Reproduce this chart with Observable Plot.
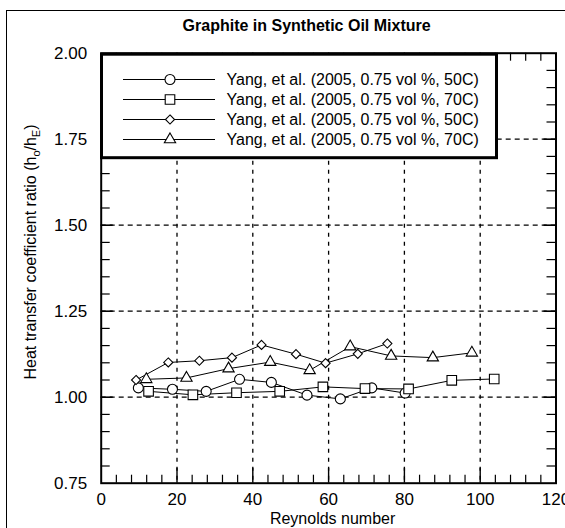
<!DOCTYPE html>
<html>
<head>
<meta charset="utf-8">
<script src="https://cdn.jsdelivr.net/npm/d3@7"></script>
<script src="https://cdn.jsdelivr.net/npm/@observablehq/plot@0.6"></script>
<style>
  html, body { margin: 0; padding: 0; background: #fff; overflow: hidden; }
  #wrap { position: relative; width: 565px; height: 528px; overflow: hidden; font-family: "Liberation Sans", Arial, sans-serif; }
  #wrap svg { display: block; }
  #outer { position: absolute; left: 6px; top: 10px; width: 800px; height: 800px; border: 1.5px solid #000; pointer-events: none; }
  #legend { position: absolute; left: 0; top: 0; pointer-events: none; }
</style>
</head>
<body>
<div id="wrap"><div id="outer"></div></div>
<script>
// ---- data ----
const titleText = "Graphite in Synthetic Oil Mixture";
const xLabel = "Reynolds number";
const seriesNames = [
  "Yang, et al. (2005, 0.75 vol %, 50C)",
  "Yang, et al. (2005, 0.75 vol %, 70C)",
  "Yang, et al. (2005, 0.75 vol %, 50C)",
  "Yang, et al. (2005, 0.75 vol %, 70C)"
];
const seriesSymbols = ["circle", "square", "diamond2", "triangle"];
const seriesR = [5, 5.4, 4.1, 4.2];

const circlesX   = [9.8, 18.8, 27.7, 36.5, 44.9, 54.3, 63.1, 71.4, 80.2];
const circlesY   = [1.027, 1.023, 1.017, 1.052, 1.043, 1.006, 0.995, 1.027, 1.012];
const squaresX   = [12.5, 24.2, 35.7, 47.1, 58.5, 69.6, 81.1, 92.5, 103.7];
const squaresY   = [1.017, 1.007, 1.013, 1.017, 1.030, 1.025, 1.024, 1.049, 1.053];
const diamondsX  = [9.2, 17.7, 25.9, 34.5, 42.3, 51.4, 59.2, 67.7, 75.5];
const diamondsY  = [1.050, 1.101, 1.106, 1.115, 1.152, 1.125, 1.099, 1.126, 1.156];
const trianglesX = [11.9, 22.5, 33.6, 44.6, 55.0, 65.7, 76.5, 87.5, 97.8];
const trianglesY = [1.052, 1.056, 1.083, 1.102, 1.078, 1.147, 1.120, 1.115, 1.129];

const xTicks = [0, 20, 40, 60, 80, 100, 120];
const yTicks = [0.75, 1.00, 1.25, 1.50, 1.75, 2.00];
const xGrid = [20, 40, 60, 80, 100];
const yGrid = [1.00, 1.25, 1.50, 1.75];
const xMinor = d3.range(4, 120, 4).filter(v => v % 20 !== 0);
const yMinor = d3.range(16, 40).map(i => i * 0.05).filter(v => Math.abs(v * 4 - Math.round(v * 4)) > 1e-6);
const yMajorInner = [1.00, 1.25, 1.50, 1.75];

// ---- build table ----
const allX = [circlesX, squaresX, diamondsX, trianglesX];
const allY = [circlesY, squaresY, diamondsY, trianglesY];
const rows = [];
allX.forEach((xs, s) => xs.forEach((x, i) => rows.push({s, x, y: allY[s][i]})));

// ---- layout ----
const W = 565, H = 528;
const mL = 100.7, mR = 9.5, mT = 52.7, mB = 45.3;
const plotW = W - mL - mR, plotH = H - mT - mB;
const font = '"Liberation Sans", Arial, sans-serif';

const dash = {stroke: "#000", strokeWidth: 1.3, strokeDasharray: "4,5"};

const marks = [
  Plot.ruleX(xGrid, {x: d => d, ...dash}),
  Plot.ruleY(yGrid, {y: d => d, ...dash, strokeDasharray: "5,4"}),
  // inward ticks
  Plot.tickX(xMinor, {x: d => d, insetTop: plotH - 8, stroke: "#000", strokeWidth: 1.2}),
  Plot.tickX(xMinor, {x: d => d, insetBottom: plotH - 8, stroke: "#000", strokeWidth: 1.2}),
  Plot.tickX(xGrid, {x: d => d, insetTop: plotH - 15, stroke: "#000", strokeWidth: 1.4}),
  Plot.tickX(xGrid, {x: d => d, insetBottom: plotH - 15, stroke: "#000", strokeWidth: 1.4}),
  Plot.tickY(yMinor, {y: d => d, insetRight: plotW - 9, stroke: "#000", strokeWidth: 1.2}),
  Plot.tickY(yMinor, {y: d => d, insetLeft: plotW - 9, stroke: "#000", strokeWidth: 1.2}),
  Plot.tickY(yMajorInner, {y: d => d, insetRight: plotW - 12, stroke: "#000", strokeWidth: 1.6}),
  Plot.tickY(yMajorInner, {y: d => d, insetLeft: plotW - 12, stroke: "#000", strokeWidth: 1.6}),
  Plot.frame({stroke: "#000", strokeWidth: 2}),
  Plot.line(rows, {x: "x", y: "y", z: "s", stroke: "#000", strokeWidth: 1}),
];
seriesSymbols.forEach((sym, s) => {
  marks.push(Plot.dot(rows.filter(d => d.s === s), {
    x: "x", y: "y", symbol: () => sym, r: seriesR[s], fill: "#fff", stroke: "#000", strokeWidth: 1.1
  }));
});
marks.push(
  Plot.axisX({ticks: xTicks, tickSize: 0, tickPadding: 10, label: null, fontSize: 17, tickFormat: d => String(d)}),
  Plot.axisY({ticks: yTicks, tickSize: 0, tickPadding: 14, label: null, fontSize: 17, tickFormat: d => d.toFixed(2)}),
  Plot.text([titleText], {frameAnchor: "top", lineAnchor: "bottom", dx: -22, dy: -22.7, text: d => d, fontSize: 16, fontWeight: "bold", fill: "#000"}),
  Plot.text([xLabel], {frameAnchor: "bottom", lineAnchor: "bottom", dx: 4, dy: 41, text: d => d, fontSize: 16, fill: "#000"})
);

const chart = Plot.plot({
  width: W, height: H,
  marginLeft: mL, marginRight: mR, marginTop: mT, marginBottom: mB,
  x: {domain: [0, 120]},
  y: {domain: [0.75, 2.0]},
  symbol: {type: "identity"},
  style: {fontFamily: font, fontSize: "17px", color: "#000", background: "#fff"},
  marks
});

const wrap = document.getElementById("wrap");
wrap.insertBefore(chart, wrap.firstChild);

// y-axis label with subscripts
const svg = d3.select(chart);
const yl = svg.append("text")
  .attr("transform", "translate(36,252) rotate(-90)")
  .attr("text-anchor", "middle")
  .attr("font-family", font).attr("font-size", 16).attr("fill", "#000");
yl.append("tspan").text("Heat transfer coefficient ratio (h");
yl.append("tspan").attr("font-size", 11).attr("dy", 4).text("o");
yl.append("tspan").attr("dy", -4).text("/h");
yl.append("tspan").attr("font-size", 11).attr("dy", 4).text("E");
yl.append("tspan").attr("dy", -4).text(")");

// ---- legend overlay ----
const lg = d3.select(wrap).append("svg").attr("id", "legend").attr("width", W).attr("height", H);
lg.append("rect").attr("x", 101.5).attr("y", 54.2).attr("width", 395).attr("height", 103.5)
  .attr("fill", "#fff").attr("stroke", "#000").attr("stroke-width", 3);
const rowY = [79.5, 99.5, 119.5, 139.5];
const symMap = {circle: d3.symbolCircle, square: d3.symbolSquare, diamond2: d3.symbolDiamond2, triangle: d3.symbolTriangle};
seriesNames.forEach((name, i) => {
  const y = rowY[i];
  lg.append("line").attr("x1", 123).attr("x2", 215).attr("y1", y).attr("y2", y).attr("stroke", "#000").attr("stroke-width", 1);
  lg.append("path").attr("d", d3.symbol(symMap[seriesSymbols[i]], Math.PI * seriesR[i] * seriesR[i])())
    .attr("transform", `translate(170,${y})`).attr("fill", "#fff").attr("stroke", "#000").attr("stroke-width", 1.1);
  lg.append("text").attr("x", 226.5).attr("y", y + 5.8).attr("font-family", font).attr("font-size", 16).attr("fill", "#000").text(name);
});
</script>
</body>
</html>
